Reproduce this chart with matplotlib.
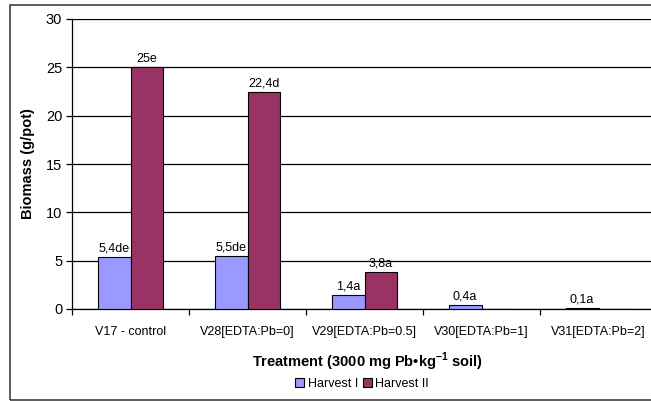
import numpy as np
import matplotlib.pyplot as plt
from matplotlib.patches import Rectangle

plt.rcParams['font.family'] = ['Liberation Sans', 'DejaVu Sans']
plt.rcParams['mathtext.fontset'] = 'custom'
plt.rcParams['mathtext.bf'] = 'Liberation Sans:bold'

treatments = ['V17 - control', 'V28[EDTA:Pb=0]', 'V29[EDTA:Pb=0.5]',
              'V30[EDTA:Pb=1]', 'V31[EDTA:Pb=2]']
harvest1 = [5.4, 5.5, 1.4, 0.4, 0.1]
harvest2 = [25.0, 22.4, 3.8, 0.0, 0.0]
labels1 = ['5,4de', '5,5de', '1,4a', '0,4a', '0,1a']
labels2 = ['25e', '22,4d', '3,8a', None, None]

fig = plt.figure(figsize=(6.51, 4.01), dpi=100)
ax = fig.add_axes([72/651, 1-309/401, 585/651, 290/401])

x = np.arange(len(treatments))
w = 0.28
b1 = ax.bar(x - w/2, harvest1, w, color='#9999FF', edgecolor='black',
            linewidth=0.8, label='Harvest I', zorder=3)
b2 = ax.bar(x + w/2, harvest2, w, color='#993366', edgecolor='black',
            linewidth=0.8, label='Harvest II', zorder=3)

for bars, labs in [(b1, labels1), (b2, labels2)]:
    for bar, lab in zip(bars, labs):
        if lab is None:
            continue
        ax.annotate(lab, (bar.get_x() + bar.get_width()/2, bar.get_height()),
                    xytext=(0, 2), textcoords='offset points',
                    ha='center', va='bottom', fontsize=9, zorder=4)

ax.set_xlim(-0.5, len(treatments) - 0.5)
ax.set_ylim(0, 30)
ax.set_yticks(np.arange(0, 31, 5))
ax.yaxis.grid(True, color='black', linewidth=0.9)
ax.set_axisbelow(True)

# category labels in the middle, tick marks on the boundaries
ax.set_xticks(x)
ax.set_xticklabels(treatments, fontsize=9)
ax.set_xticks(np.arange(-0.5, len(treatments)), minor=True)
ax.tick_params(axis='x', which='major', length=0, pad=12)
ax.tick_params(axis='x', which='minor', length=4, width=0.9, direction='out')
ax.tick_params(axis='y', length=4, width=0.9, labelsize=10.5, pad=3)

for s in ['top', 'right']:
    ax.spines[s].set_visible(False)
ax.spines['left'].set_linewidth(0.9)
ax.spines['bottom'].set_linewidth(0.9)

ax.set_ylabel('Biomass (g/pot)', fontsize=10.5, fontweight='bold', labelpad=8)

# x title with the superscript drawn as mathtext
fig.text(367/651, 1-362/401, 'Treatment (3000 mg Pb\u2022kg$^{\\mathbf{-1}}$ soil)',
         ha='center', va='center', fontsize=10.5, fontweight='bold')

fig.legend(handles=[b1, b2], loc='center', bbox_to_anchor=(362/651, 1-384/401),
           ncol=2, frameon=False, fontsize=9, handlelength=0.7,
           handleheight=0.7, handletextpad=0.3, columnspacing=0.4,
           borderpad=0.1)

# chart border
fig.patches.append(Rectangle((10/651, 1/401), 1.0, 395/401, transform=fig.transFigure,
                             fill=False, edgecolor='#404040', linewidth=1.2))

fig.savefig('out.png', dpi=100)
